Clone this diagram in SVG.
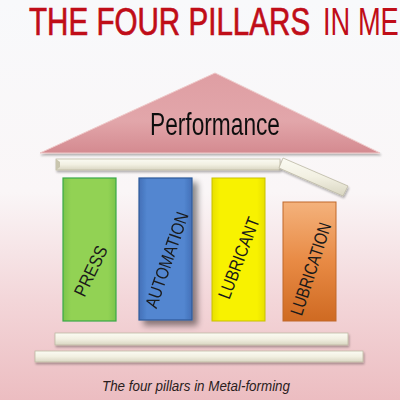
<svg xmlns="http://www.w3.org/2000/svg" width="400" height="400" viewBox="0 0 400 400">
  <defs>
    <linearGradient id="bg" x1="0" y1="0" x2="0" y2="1">
      <stop offset="0" stop-color="#f8f9fb"/>
      <stop offset="0.48" stop-color="#faf6f7"/>
      <stop offset="0.75" stop-color="#f3d6d9"/>
      <stop offset="1" stop-color="#ecbdc1"/>
    </linearGradient>
    <linearGradient id="roofG" x1="0" y1="0" x2="0" y2="1">
      <stop offset="0" stop-color="#df9ea3"/>
      <stop offset="0.6" stop-color="#e2a6aa"/>
      <stop offset="1" stop-color="#d48a90"/>
    </linearGradient>
    <linearGradient id="beamG" x1="0" y1="0" x2="0" y2="1">
      <stop offset="0" stop-color="#fbfbf3"/>
      <stop offset="0.5" stop-color="#f2f0e2"/>
      <stop offset="1" stop-color="#d9d6c2"/>
    </linearGradient>
    <linearGradient id="greenG" x1="0" y1="0" x2="1" y2="0">
      <stop offset="0" stop-color="#7cc44a"/>
      <stop offset="0.15" stop-color="#92d254"/>
      <stop offset="0.85" stop-color="#92d254"/>
      <stop offset="1" stop-color="#7cc44a"/>
    </linearGradient>
    <linearGradient id="blueG" x1="0" y1="0" x2="1" y2="0">
      <stop offset="0" stop-color="#4470b8"/>
      <stop offset="0.15" stop-color="#5286d0"/>
      <stop offset="0.85" stop-color="#5286d0"/>
      <stop offset="1" stop-color="#4470b8"/>
    </linearGradient>
    <linearGradient id="yellowG" x1="0" y1="0" x2="1" y2="0">
      <stop offset="0" stop-color="#e8e000"/>
      <stop offset="0.15" stop-color="#f8f200"/>
      <stop offset="0.85" stop-color="#f8f200"/>
      <stop offset="1" stop-color="#e8e000"/>
    </linearGradient>
    <linearGradient id="orangeG" x1="0" y1="0" x2="0" y2="1">
      <stop offset="0" stop-color="#f4b27c"/>
      <stop offset="0.5" stop-color="#e88a44"/>
      <stop offset="1" stop-color="#cf6a22"/>
    </linearGradient>
    <filter id="shadow" x="-30%" y="-10%" width="160%" height="130%">
      <feGaussianBlur in="SourceAlpha" stdDeviation="3"/>
      <feOffset dx="5" dy="5"/>
      <feComponentTransfer><feFuncA type="linear" slope="0.45"/></feComponentTransfer>
      <feMerge><feMergeNode/><feMergeNode in="SourceGraphic"/></feMerge>
    </filter>
    <filter id="soft" x="-10%" y="-20%" width="120%" height="160%">
      <feGaussianBlur in="SourceAlpha" stdDeviation="1.2"/>
      <feOffset dx="1" dy="1.5"/>
      <feComponentTransfer><feFuncA type="linear" slope="0.3"/></feComponentTransfer>
      <feMerge><feMergeNode/><feMergeNode in="SourceGraphic"/></feMerge>
    </filter>
  </defs>
  <style>
    .title { font-family: "Liberation Sans", Arial, sans-serif; fill: #c00d18; font-size: 39px; }
    .beam { fill: url(#beamG); stroke: #bdb9a4; stroke-width: 0.8; }
    .pl { font-family: "Liberation Sans Narrow", "Liberation Sans", Arial, sans-serif; font-size: 18px; fill: #1a1a1a; text-anchor: middle; }
    .cap { font-family: "Liberation Sans Narrow", "Liberation Sans", Arial, sans-serif; font-style: italic; font-size: 14px; fill: #2a2020; text-anchor: middle; }
  </style>

  <rect x="0" y="0" width="400" height="400" fill="url(#bg)"/>

  <g id="title">
    <text class="title" transform="translate(29,35) scale(0.759,1)" stroke="#c00d18" stroke-width="0.7">THE FOUR PILLARS</text>
    <text class="title" transform="translate(323,35) scale(0.70,1)">IN ME</text>
  </g>

  <g id="roof" filter="url(#soft)">
    <polygon points="215,73 40,153 380,153" fill="url(#roofG)" stroke="#eec8c8" stroke-width="1"/>
    <text x="215" y="135" font-family="'Liberation Sans Narrow', 'Liberation Sans', Arial, sans-serif" font-size="31" fill="#111" text-anchor="middle" textLength="130" lengthAdjust="spacingAndGlyphs">Performance</text>
  </g>

  <g id="top-beam" filter="url(#soft)">
    <rect class="beam" x="56" y="159" width="224" height="11"/>
    <polygon points="56,159 60,162 60,167 56,170" fill="#c9c5ae"/>
  </g>

  <g id="broken-beam" filter="url(#soft)">
    <polygon class="beam" points="283,158 348,186 343,196 279,168"/>
  </g>

  <g id="press">
    <rect x="63" y="178" width="53" height="143" fill="url(#greenG)" stroke="#3aa848" stroke-width="1.2"/>
    <text class="pl" transform="translate(91,271) rotate(-64)" textLength="54" lengthAdjust="spacingAndGlyphs" dy="6">PRESS</text>
  </g>

  <g id="automation" filter="url(#shadow)">
    <rect x="139" y="178" width="53" height="142" fill="url(#blueG)" stroke="#2f5b9a" stroke-width="1.2"/>
    <text class="pl" transform="translate(167,260) rotate(-71)" textLength="100" lengthAdjust="spacingAndGlyphs" dy="6">AUTOMATION</text>
  </g>

  <g id="lubricant">
    <rect x="212" y="178" width="53" height="143" fill="url(#yellowG)" stroke="#c8c000" stroke-width="1"/>
    <text class="pl" transform="translate(239,258) rotate(-69)" textLength="86" lengthAdjust="spacingAndGlyphs" dy="6">LUBRICANT</text>
  </g>

  <g id="lubrication">
    <rect x="283" y="202" width="53" height="119" fill="url(#orangeG)" stroke="#c0682a" stroke-width="1"/>
    <text class="pl" transform="translate(311,269) rotate(-72)" textLength="96" lengthAdjust="spacingAndGlyphs" dy="6">LUBRICATION</text>
  </g>

  <g id="step-1" filter="url(#soft)">
    <rect class="beam" x="55" y="333" width="293" height="12"/>
  </g>
  <g id="step-2" filter="url(#soft)">
    <rect class="beam" x="35" y="351" width="328" height="11"/>
  </g>

  <g id="caption">
    <text class="cap" x="196" y="391" textLength="188" lengthAdjust="spacingAndGlyphs">The four pillars in Metal-forming</text>
  </g>
</svg>
